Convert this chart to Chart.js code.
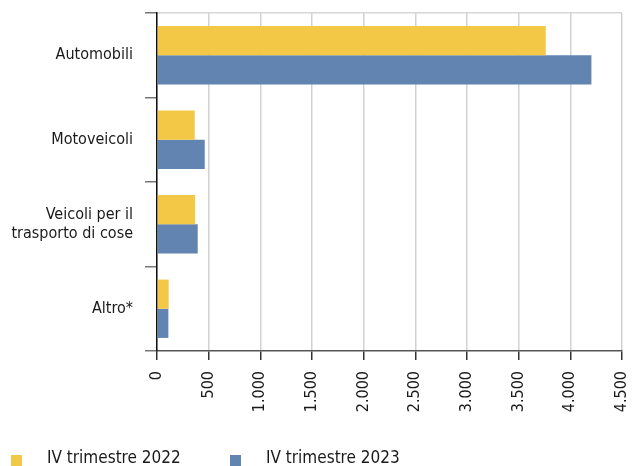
<!DOCTYPE html>
<html>
<head>
<meta charset="utf-8">
<script src="https://cdn.jsdelivr.net/npm/chart.js@4/dist/chart.umd.min.js"></script>
<style>
    html, body { margin: 0; padding: 0; background: #fff; }
    #wrap { position: relative; width: 632px; height: 466px; }
    #legend { position: absolute; left: 0; top: 447px; font-family: "Liberation Sans Narrow", "DejaVu Sans Condensed", sans-serif; font-size: 17px; color: #1a1a1a; }
    .item { position: absolute; white-space: nowrap; line-height: 20px; }
    .box { position: absolute; width: 11px; height: 11px; top: 8px; }
    .lbl { position: absolute; top: 0; }
</style>
</head>
<body>
<div id="wrap">
    <canvas id="chart" width="632" height="466"></canvas>
    <div id="legend"></div>
</div>
<script>
const categories = ['Automobili', 'Motoveicoli', ['Veicoli per il', 'trasporto di cose'], 'Altro*'];
const seriesNames = ['IV trimestre 2022', 'IV trimestre 2023'];
const values2022 = [3762, 365, 369, 113];
const values2023 = [4204, 462, 394, 110];
const colors = ['#F2C846', '#6284B0'];

const font = { family: '"Liberation Sans Narrow", "DejaVu Sans Condensed", sans-serif', size: 16 };

const chart = new Chart(document.getElementById('chart'), {
    type: 'bar',
    data: {
        labels: categories,
        datasets: [
            { label: seriesNames[0], data: values2022, backgroundColor: colors[0] },
            { label: seriesNames[1], data: values2023, backgroundColor: colors[1] }
        ]
    },
    options: {
        indexAxis: 'y',
        responsive: false,
        animation: false,
        categoryPercentage: 0.69,
        barPercentage: 1.0,
        layout: { padding: { top: 13, right: 0, bottom: 0, left: 0 } },
        plugins: {
            legend: { display: false },
            tooltip: { enabled: false }
        },
        scales: {
            x: {
                min: 0,
                max: 4500,
                ticks: {
                    stepSize: 500,
                    minRotation: 90,
                    maxRotation: 90,
                    padding: 11,
                    color: '#1a1a1a',
                    font: font,
                    callback: v => v.toLocaleString('it-IT').replace(/\s/g, '.')
                },
                grid: { color: '#d2d2d2', tickColor: '#333', tickLength: 9, lineWidth: 1.5 },
                border: { color: '#555', width: 1.5 },
                afterFit: s => { s.height = 115; s.paddingLeft = 0; s.paddingRight = 10; }
            },
            y: {
                ticks: { color: '#1a1a1a', font: font, padding: 12 },
                grid: {
                    offset: true,
                    color: c => c.index === 0 ? '#d6d6d6' : 'rgba(0,0,0,0)',
                    tickColor: '#777',
                    tickLength: 12,
                    lineWidth: 1.5
                },
                border: { color: '#111', width: 1.5 },
                afterFit: s => { s.width = 157; s.paddingTop = 0; s.paddingBottom = 0; }
            }
        }
    }
});

// legend below the chart
const legend = document.getElementById('legend');
const legendX = [11, 230];
seriesNames.forEach((name, i) => {
    const item = document.createElement('div');
    item.className = 'item';
    item.style.left = legendX[i] + 'px';
    const box = document.createElement('span');
    box.className = 'box';
    box.style.background = colors[i];
    const lbl = document.createElement('span');
    lbl.className = 'lbl';
    lbl.style.left = '36px';
    lbl.textContent = name;
    item.appendChild(box);
    item.appendChild(lbl);
    legend.appendChild(item);
});
</script>
</body>
</html>
